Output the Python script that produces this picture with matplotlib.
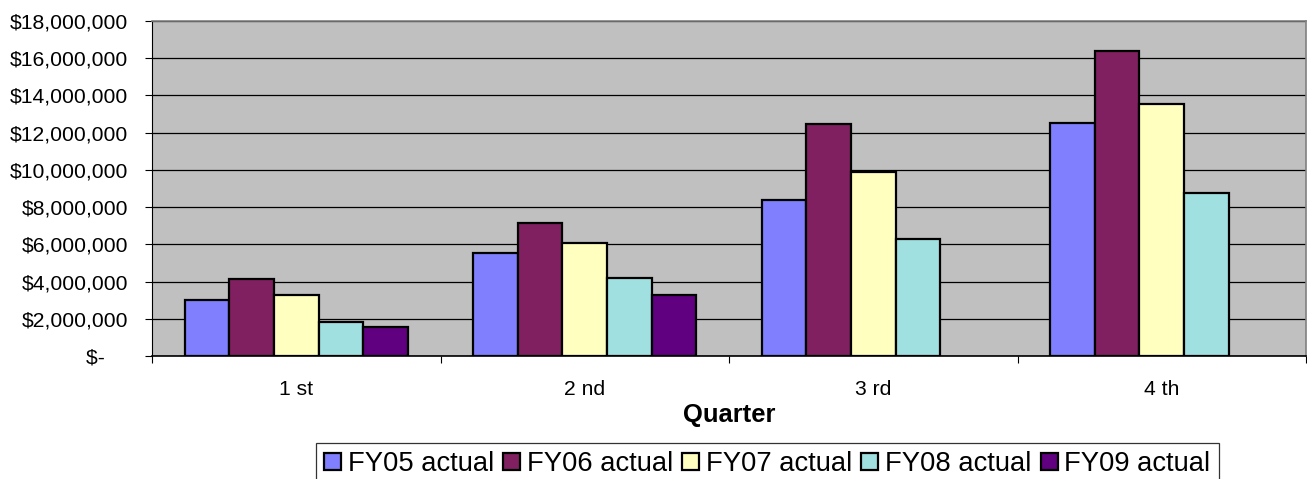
import numpy as np
import matplotlib.pyplot as plt
from matplotlib.ticker import FuncFormatter, FixedLocator

plt.rcParams['font.family'] = ['Liberation Sans', 'DejaVu Sans']

# Quarterly revenue by fiscal year (FY09 only has two quarters so far)
quarters = ['1 st', '2 nd', '3 rd', '4 th']
fy05 = [3000000, 5540000, 8390000, 12530000]
fy06 = [4140000, 7150000, 12470000, 16400000]
fy07 = [3280000, 6070000, 9890000, 13550000]
fy08 = [1830000, 4190000, 6290000, 8760000]
fy09 = [1560000, 3280000, np.nan, np.nan]

series = [fy05, fy06, fy07, fy08, fy09]
labels = ['FY05 actual', 'FY06 actual', 'FY07 actual', 'FY08 actual', 'FY09 actual']
colors = ['#8080FF', '#802060', '#FFFFC0', '#A0E0E0', '#600080']

fs = 15.2
fig = plt.figure(figsize=(13.07, 4.79), dpi=100)
ax = fig.add_axes([152 / 1307, 1 - 356 / 479, 1154 / 1307, 335 / 479])
ax.set_facecolor('#C0C0C0')

x = np.arange(len(quarters))
w = 0.1546
for i, (vals, lab, c) in enumerate(zip(series, labels, colors)):
    ax.bar(x + (i - 2) * w, vals, width=w, color=c, edgecolor='black',
           linewidth=1.6, label=lab, zorder=3)

ax.set_xlim(-0.5, 3.5)
ax.set_ylim(0, 18000000)
ax.set_yticks(np.arange(0, 18000001, 2000000))
ax.yaxis.set_major_formatter(FuncFormatter(
    lambda v, p: '$-    ' if v == 0 else '${:,.0f}'.format(v)))
ax.grid(axis='y', color='black', linewidth=0.9, zorder=1)
ax.set_axisbelow(True)

ax.set_xticks(x)
ax.set_xticklabels(quarters)
ax.xaxis.set_minor_locator(FixedLocator(np.arange(-0.5, 3.6, 1.0)))
ax.tick_params(axis='x', which='major', length=0, pad=17, labelsize=fs)
ax.tick_params(axis='x', which='minor', length=5, width=0.8, direction='out')
ax.tick_params(axis='y', length=5, width=0.8, direction='out', pad=12, labelsize=fs)

for s in ['top', 'right']:
    ax.spines[s].set_color('#808080')
    ax.spines[s].set_linewidth(1.2)
ax.spines['left'].set_color('black')
ax.spines['bottom'].set_color('black')
ax.spines['bottom'].set_linewidth(1.2)

ax.set_xlabel('Quarter', fontsize=18.4, fontweight='bold')
ax.xaxis.set_label_coords(0.5, -0.14)

leg = fig.legend(loc='upper left', bbox_to_anchor=(316 / 1307, 1 - 443 / 479),
                 ncol=5, fontsize=19.7, frameon=True, fancybox=False,
                 handlelength=0.62, handleheight=0.62, handletextpad=0.25,
                 columnspacing=0.33, borderpad=0.3, borderaxespad=0)
leg.get_frame().set_edgecolor('black')
leg.get_frame().set_linewidth(0.9)
for h in leg.legend_handles:
    h.set_linewidth(1.6)

fig.savefig('out.png', dpi=100)
